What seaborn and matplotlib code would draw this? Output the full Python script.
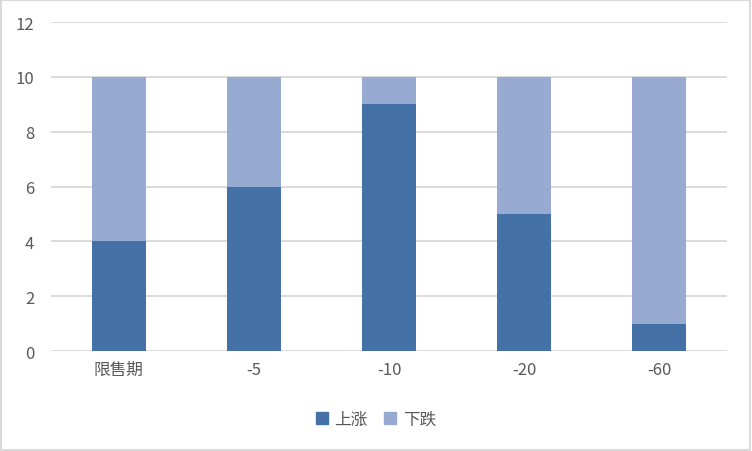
import pandas as pd
import numpy as np
import seaborn as sns
import matplotlib.pyplot as plt
from matplotlib.patches import Patch, Rectangle

# dados do gráfico
categorias = ['限售期', '-5', '-10', '-20', '-60']
subiu = [4, 6, 9, 5, 1]
caiu = [6, 4, 1, 5, 9]

cor_escura = '#4472A7'
cor_clara = '#96AAD2'
cinza = '#595959'

sns.set_theme(style='white')
plt.rcParams['font.family'] = ['Noto Sans CJK SC', 'DejaVu Sans']

df = pd.DataFrame({'cat': categorias, 'up': subiu, 'down': caiu})
df['total'] = df['up'] + df['down']

fig = plt.figure(figsize=(7.52, 4.52), dpi=100)
ax = fig.add_axes([0.0678, 0.2212, 0.899, 0.7278])

# barras empilhadas: total primeiro, depois a parte de baixo
sns.barplot(data=df, x='cat', y='total', color=cor_clara, width=0.4,
            saturation=1, linewidth=0, ax=ax, zorder=3)
sns.barplot(data=df, x='cat', y='up', color=cor_escura, width=0.4,
            saturation=1, linewidth=0, ax=ax, zorder=3)

ax.set_ylim(0, 12)
ax.set_yticks(np.arange(0, 13, 2))
ax.set_xlim(-0.5, len(categorias) - 0.5)
ax.yaxis.grid(True, color='#D4D4D4', linewidth=1.2, zorder=0)
ax.set_axisbelow(True)
for s in ax.spines.values():
    s.set_visible(False)
ax.set_xlabel('')
ax.set_ylabel('')
ax.tick_params(axis='both', length=0, labelsize=12, labelcolor=cinza)
ax.tick_params(axis='x', pad=7)
ax.tick_params(axis='y', pad=12)

handles = [Patch(color=cor_escura, label='上涨'), Patch(color=cor_clara, label='下跌')]
fig.legend(handles=handles, loc='center', bbox_to_anchor=(0.5, 0.07), ncol=2,
           frameon=False, fontsize=12, labelcolor=cinza, handlelength=0.7,
           handleheight=0.7, handletextpad=0.4, columnspacing=1.0)

# borda cinza em volta da figura
fig.patches.append(Rectangle((0.001, 0.002), 0.997, 0.995, transform=fig.transFigure,
                             fill=False, edgecolor='#D9D9D9', linewidth=1.5))

fig.savefig('out.png', dpi=100)
